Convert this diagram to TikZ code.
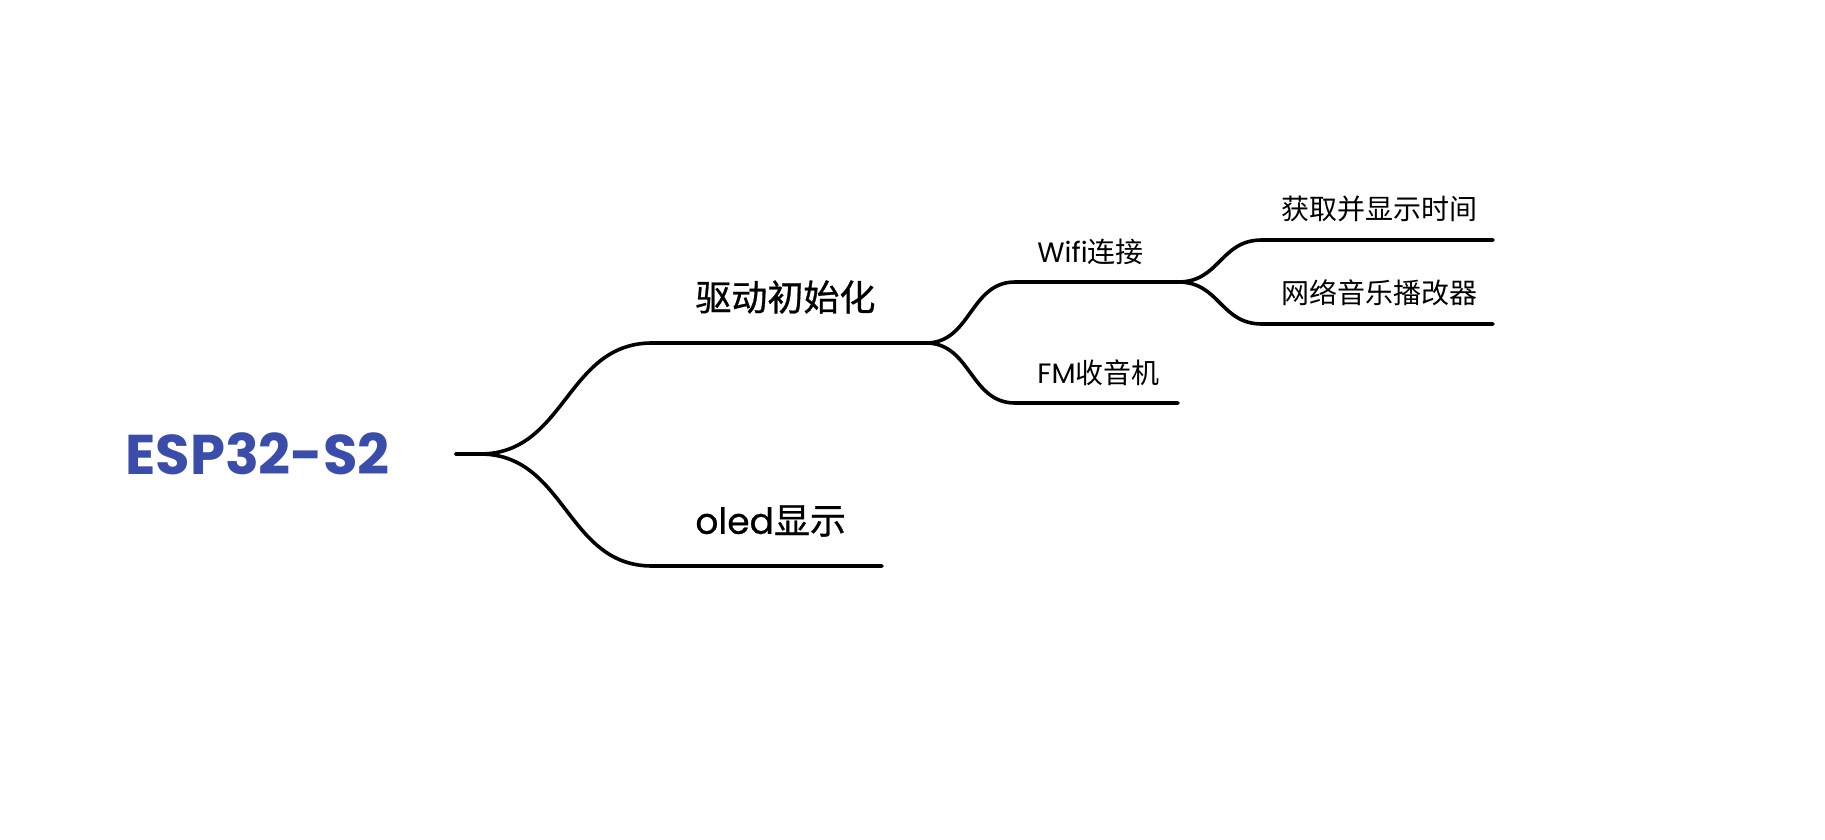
\documentclass[tikz,border=0pt]{standalone}
\usepackage{fontspec}
\setmainfont{Poppins}
\newfontfamily\cjk{Noto Sans CJK SC}
\newfontfamily\cjkm{Noto Sans CJK SC}[FakeBold=0.8]
\newfontfamily\pop{Poppins}
\newfontfamily\popm{Poppins}[FakeBold=0.6]
\definecolor{rootblue}{RGB}{58,77,170}
\begin{document}
\begin{tikzpicture}[x=0.5pt,y=-0.5pt,
  br/.style={line width=1.8pt, line cap=round},
  rootlbl/.style={inner sep=0pt, anchor=west, text=rootblue, font=\pop\bfseries\fontsize{28}{33}\selectfont},
  lvone/.style={inner sep=0pt, anchor=west, font=\fontsize{18}{22}\selectfont},
  lvtwo/.style={inner sep=0pt, anchor=west, font=\fontsize{14}{17}\selectfont}]
\useasboundingbox (0,0) rectangle (1825,840);
\node[rootlbl] (root) at (125,454) {ESP32-S2};
\node[lvone] (drv) at (695,297) {\cjkm 驱动初始化};
\node[lvone] (oled) at (695,521) {{\popm oled}{\cjkm 显示}};
\node[lvtwo] (wifi) at (1037,252) {{\pop Wifi}{\cjk 连接}};
\node[lvtwo] (fm) at (1037,373) {{\pop FM}{\cjk 收音机}};
\node[lvtwo] (time) at (1281,208.5) {\cjk 获取并显示时间};
\node[lvtwo] (music) at (1281,292.5) {\cjk 网络音乐播改器};
\coordinate (r0) at (456,454); \coordinate (rb) at (480,454);
\coordinate (a0) at (652,343); \coordinate (a1) at (926,343);
\coordinate (b0) at (652,566); \coordinate (b1) at (882,566);
\coordinate (w0) at (1015,282); \coordinate (w1) at (1178,282);
\coordinate (f0) at (1015,403); \coordinate (f1) at (1178,403);
\coordinate (t0) at (1262,240); \coordinate (t1) at (1493,240);
\coordinate (m0) at (1262,324); \coordinate (m1) at (1493,324);
\draw[br] (r0) -- (rb);
\draw[br] (rb) .. controls +(86,0) and +(-86,0) .. (a0) -- (a1);
\draw[br] (rb) .. controls +(86,0) and +(-86,0) .. (b0) -- (b1);
\draw[br] (a1) .. controls +(45,0) and +(-45,0) .. (w0) -- (w1);
\draw[br] (a1) .. controls +(45,0) and +(-45,0) .. (f0) -- (f1);
\draw[br] (w1) .. controls +(42,0) and +(-42,0) .. (t0) -- (t1);
\draw[br] (w1) .. controls +(42,0) and +(-42,0) .. (m0) -- (m1);
\end{tikzpicture}
\end{document}
